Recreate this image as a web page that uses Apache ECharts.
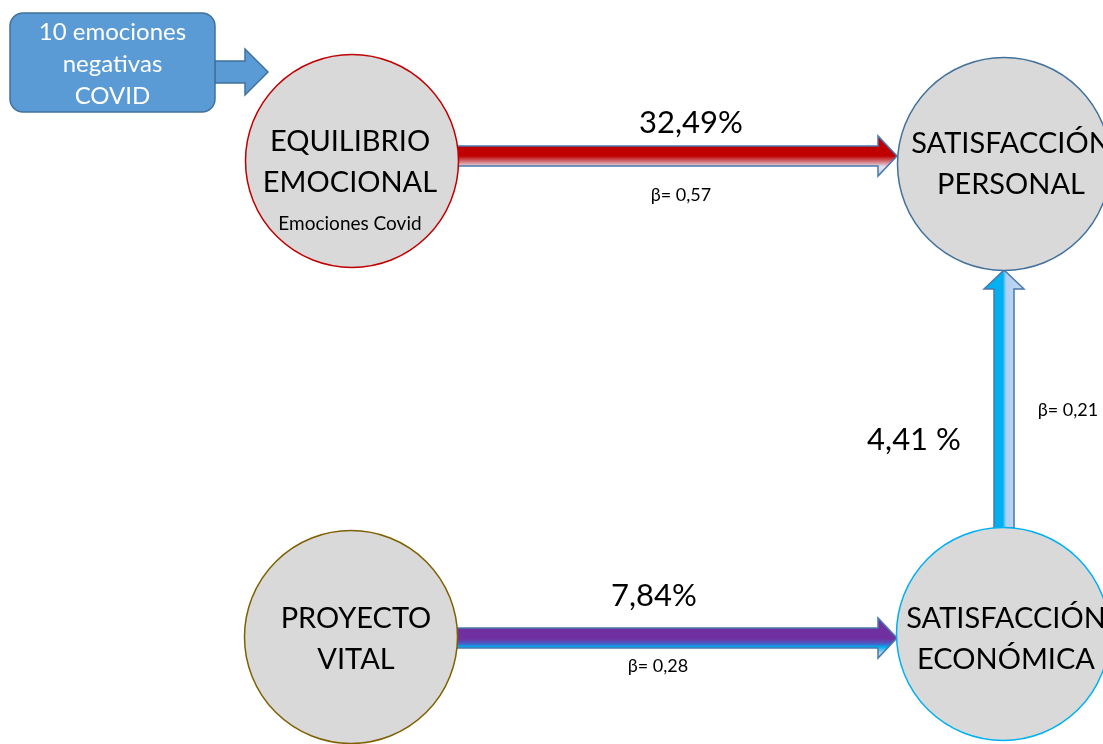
<!DOCTYPE html>
<html>
<head>
<meta charset="utf-8">
<script src="https://cdn.jsdelivr.net/npm/echarts@6/dist/echarts.min.js"></script>
<style>
  html, body { margin: 0; padding: 0; background: #fff; }
  #chart { width: 1103px; height: 744px; }
</style>
</head>
<body>
<div id="chart"></div>
<script>
// datos del modelo
var nodeNames = ['EQUILIBRIO\nEMOCIONAL', 'SATISFACCIÓN\nPERSONAL', 'PROYECTO\nVITAL', 'SATISFACCIÓN\nECONÓMICA'];
var nodeNotes = ['Emociones Covid', '', '', ''];
var pathFrom = [0, 2, 3];
var pathTo = [1, 3, 1];
var pathShare = ['32,49%', '7,84%', '4,41 %'];
var pathBeta = ['0,57', '0,28', '0,21'];
var inputLabel = '10 emociones\nnegativas\nCOVID';

// posiciones (lienzo 1103 x 744)
var nodeCenters = [[352, 161], [1004, 164], [351, 637], [1003, 634]];
var nodeBorders = ['#c00000', '#41719c', '#7f6000', '#00b0f0'];
var labelOffsets = [[-2, 22], [7, 0], [5, 2], [3, 5]];
var arrowLayout = [[457, 156, 897, 156], [456, 638, 897, 638], [1004, 528, 1004, 270]];
var shareLayout = [[691, 123], [654, 596], [914, 440]];
var betaLayout = [[681, 195], [658, 666], [1068, 410]];

var FONT = 'Lato, "Noto Sans", sans-serif';

function grad(horizontal, stops) {
  return new echarts.graphic.LinearGradient(0, 0, horizontal ? 1 : 0, horizontal ? 0 : 1,
    stops.map(function (s) { return { offset: s[0], color: s[1] }; }));
}

var arrowFills = [
  grad(false, [[0, '#c00000'], [0.5, '#c00000'], [0.76, '#e2e2ee'], [1, '#b9cde8']]),
  grad(false, [[0, '#7030a0'], [0.52, '#7030a0'], [0.63, '#4a5cc4'], [0.72, '#00b0f0'], [0.86, '#a9d4f2'], [1, '#c5dcf3']]),
  grad(true, [[0, '#00b0f0'], [0.47, '#00b0f0'], [0.55, '#b0cff0'], [1, '#c6dcf2']])
];

function arrowPoints(p0, p1, w, hw, hl) {
  var dx = p1[0] - p0[0], dy = p1[1] - p0[1];
  var len = Math.sqrt(dx * dx + dy * dy);
  var ux = dx / len, uy = dy / len, nx = -uy, ny = ux;
  var bx = p1[0] - ux * hl, by = p1[1] - uy * hl;
  return [
    [p0[0] + nx * w, p0[1] + ny * w],
    [bx + nx * w, by + ny * w],
    [bx + nx * hw, by + ny * hw],
    [p1[0], p1[1]],
    [bx - nx * hw, by - ny * hw],
    [bx - nx * w, by - ny * w],
    [p0[0] - nx * w, p0[1] - ny * w]
  ];
}

var myChart = echarts.init(document.getElementById('chart'));

myChart.setOption({
  animation: false,
  grid: { left: 0, right: 0, top: 0, bottom: 0 },
  xAxis: { type: 'value', min: 0, max: 1103, show: false },
  yAxis: { type: 'value', min: 0, max: 744, inverse: true, show: false },
  series: [
    {
      // círculos de las variables
      type: 'scatter',
      symbol: 'circle',
      symbolSize: 213,
      silent: true,
      itemStyle: { color: '#d9d9d9', borderWidth: 1.5, opacity: 1 },
      label: {
        show: true,
        position: 'inside',
        fontFamily: FONT,
        formatter: function (p) {
          var i = p.dataIndex;
          var s = nodeNames[i].split('\n').map(function (t) { return '{t|' + t + '}'; }).join('\n');
          if (nodeNotes[i]) s += '\n{n|' + nodeNotes[i] + '}';
          return s;
        },
        rich: {
          t: { fontSize: 29, lineHeight: 41, color: '#000', fontFamily: FONT },
          n: { fontSize: 19, lineHeight: 42, color: '#000', fontFamily: FONT }
        }
      },
      data: nodeCenters.map(function (c, i) {
        return {
          value: c,
          itemStyle: { borderColor: nodeBorders[i] },
          label: { offset: labelOffsets[i] }
        };
      })
    },
    {
      // flechas de las relaciones
      type: 'custom',
      silent: true,
      renderItem: function (params, api) {
        var i = api.value(0);
        var L = arrowLayout[i];
        var p0 = api.coord([L[0], L[1]]);
        var p1 = api.coord([L[2], L[3]]);
        var sp = api.coord(shareLayout[i]);
        var bp = api.coord(betaLayout[i]);
        return {
          type: 'group',
          children: [
            {
              type: 'polygon',
              shape: { points: arrowPoints(p0, p1, 10, 20, 19) },
              style: { fill: arrowFills[i], stroke: '#4a78ad', lineWidth: 1.5 }
            },
            {
              type: 'text',
              x: sp[0], y: sp[1],
              style: { text: pathShare[i], fontSize: 31, fontFamily: FONT, fill: '#000', align: 'center', verticalAlign: 'middle' }
            },
            {
              type: 'text',
              x: bp[0], y: bp[1],
              style: { text: 'β= ' + pathBeta[i], fontSize: 18, fontFamily: FONT, fill: '#000', align: 'center', verticalAlign: 'middle' }
            }
          ]
        };
      },
      data: pathFrom.map(function (f, i) { return [i, f, pathTo[i]]; })
    },
    {
      // caja de entrada
      type: 'custom',
      silent: true,
      renderItem: function (params, api) {
        var a = api.coord([10, 13]);
        var b = api.coord([215, 112]);
        var c = api.coord([112.5, 64]);
        var s0 = api.coord([215, 72]);
        var s1 = api.coord([268, 72]);
        return {
          type: 'group',
          children: [
            {
              type: 'polygon',
              shape: { points: arrowPoints(s0, s1, 11, 23, 23) },
              style: { fill: '#5b9bd5', stroke: '#41719c', lineWidth: 1.5 }
            },
            {
              type: 'rect',
              shape: { x: a[0], y: a[1], width: b[0] - a[0], height: b[1] - a[1], r: 13 },
              style: { fill: '#5b9bd5', stroke: '#41719c', lineWidth: 1.5 }
            },
            {
              type: 'text',
              x: c[0], y: c[1],
              style: { text: inputLabel, fontSize: 24, lineHeight: 32, fontFamily: FONT, fill: '#fff', align: 'center', verticalAlign: 'middle' }
            }
          ]
        };
      },
      data: [[0]]
    }
  ]
});

window.addEventListener('resize', function () {
  myChart.resize();
});
</script>
</body>
</html>
